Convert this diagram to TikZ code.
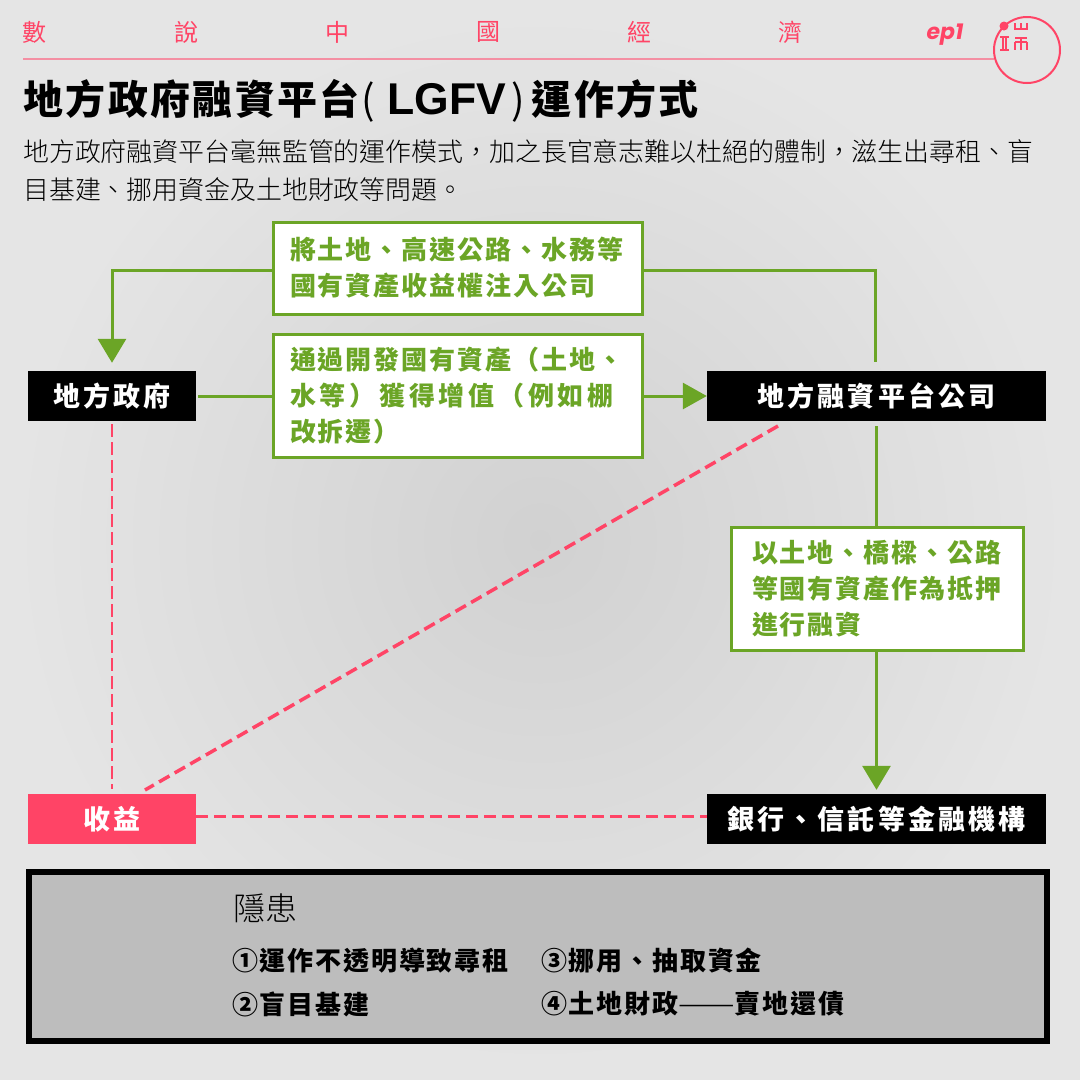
\documentclass[tikz,border=0pt]{standalone}
\usepackage{fontspec}
\setmainfont{Noto Sans CJK TC}
\newfontfamily\cjkblack{Noto Sans CJK TC}[UprightFont={* Black}]
\newfontfamily\cjklight{Noto Sans CJK TC}[UprightFont={* Light}]
\newfontfamily\latinbold{Liberation Sans}[UprightFont={* Bold}]
\newfontfamily\epfont{Poppins}[UprightFont={* Bold Italic}]
\usetikzlibrary{arrows.meta}
\newcommand{\fwcomma}{\char"FF0C\relax}
\newcommand{\fwlp}{\char"FF08\relax}
\newcommand{\fwrp}{\char"FF09\relax}
\definecolor{pinkred}{HTML}{FF4466}
\definecolor{pinkline}{HTML}{F48FA3}
\definecolor{leaf}{HTML}{6BA526}
\tikzset{
	greenbox/.style={draw=leaf, line width=3pt, fill=white, inner ysep=0pt, align=left, text=leaf, font=\cjkblack\fontsize{26}{36}\selectfont\addfontfeature{LetterSpace=7.5}},
	blackbox/.style={fill=black, text=white, minimum height=50pt, inner sep=0pt, font=\cjkblack\fontsize{27}{30}\selectfont\addfontfeature{LetterSpace=11.5}},
	greenline/.style={draw=leaf, line width=3pt},
	pinkdash/.style={draw=pinkred, line width=3pt, dash pattern=on 12pt off 6pt},
	headchar/.style={text=pinkred, font=\fontsize{24}{28}\selectfont},
	issue/.style={anchor=west, inner sep=0pt, font=\cjkblack\fontsize{26}{30}\selectfont\addfontfeature{LetterSpace=7}},
	logostroke/.style={draw=pinkred, line width=1.8pt}
}

\begin{document}
\begin{tikzpicture}[x=1pt, y=-1pt]
	\useasboundingbox (0,0) rectangle (1080,1080);
	\shade[inner color=black!18, outer color=black!10] (0,0) rectangle (1080,1080);

	% header
	\node[headchar] (h1) at (35,32) {數};
	\node[headchar] (h2) at (186,32) {說};
	\node[headchar] (h3) at (337,32) {中};
	\node[headchar] (h4) at (488,32) {國};
	\node[headchar] (h5) at (639,32) {經};
	\node[headchar] (h6) at (790,32) {濟};
	\node[text=pinkred, font=\epfont\fontsize{22}{24}\selectfont] (ep) at (945,35) {ep1};
	\draw[draw=pinkline, line width=2pt] (23,59) -- (994,59);
	\draw[draw=pinkred, line width=2pt] (1027,50) circle (33);
	\fill[pinkred] (1004,26) circle (4.5);
	\draw[logostroke] (1000,37) -- (1009,37) (1000,50) -- (1009,50) (1003,37) -- (1003,50) (1006,37) -- (1006,50);
	\draw[logostroke] (1015,23) -- (1015,29) -- (1027,29) -- (1027,23) (1021,23) -- (1021,29);
	\draw[logostroke] (1015,38) -- (1027,38) (1015,42) -- (1015,50) (1021,38) -- (1021,50) (1027,42) -- (1027,50) (1015,42) -- (1027,42);

	% title
	\node[anchor=west, inner sep=0pt, font=\cjkblack\fontsize{40}{42}\selectfont\addfontfeature{LetterSpace=6}] (title) at (23,101) {地方政府融資平台\kern2pt{\normalfont\fontsize{40}{42}\selectfont(}\kern12pt{\latinbold\fontsize{44.5}{42}\selectfont LGFV}\kern5pt{\normalfont\fontsize{40}{42}\selectfont)}\kern7pt 運作方式};
	\node[anchor=west, inner sep=0pt, font=\cjklight\fontsize{25.9}{38}\selectfont] (sub1) at (23,152) {地方政府融資平台毫無監管的運作模式\fwcomma 加之長官意志難以杜絕的體制\fwcomma 滋生出尋租、盲};
	\node[anchor=west, inner sep=0pt, font=\cjklight\fontsize{25.9}{38}\selectfont] (sub2) at (23,190) {目基建、挪用資金及土地財政等問題。};

	% boxes
	\node[blackbox, minimum width=168pt] (gov) at (112,396) {地方政府};
	\node[blackbox, minimum width=339pt] (platform) at (876.5,396) {地方融資平台公司};
	\node[blackbox, minimum width=168pt, fill=pinkred] (income) at (112,819) {收益};
	\node[blackbox, minimum width=339pt] (bank) at (876.5,819) {銀行、信託等金融機構};
	\node[greenbox, inner xsep=17pt, text width=335pt, minimum height=92pt] (inject) at (457.5,268) {將土地、高速公路、水務等\\國有資產收益權注入公司};
	\node[greenbox, inner xsep=17pt, text width=335pt, minimum height=123pt] (develop) at (457.5,395.5) {通過開發國有資產\fwlp 土地、\\{\addfontfeature{LetterSpace=14.5}水等\fwrp 獲得增值\fwlp 例如棚}\\改拆遷\fwrp};
	\node[greenbox, inner xsep=21pt, text width=250pt, minimum height=123pt] (mortgage) at (877,588.5) {以土地、橋樑、公路\\等國有資產作為抵押\\進行融資};

	% connectors
	\draw[greenline, -{Triangle[length=24pt, width=28pt]}, shorten >=8pt] ([yshift=-2pt]inject.west) -| (gov.north);
	\draw[greenline, shorten >=9pt] ([yshift=-2pt]inject.east) -| ([xshift=-1.5pt]platform.north);
	\draw[greenline, shorten <=2pt] (gov.east) -- (gov.east -| develop.west);
	\draw[greenline, -{Triangle[length=24pt, width=26pt]}] (platform.west -| develop.east) -- (platform.west);
	\draw[greenline, shorten <=5pt] (platform.south) -- (platform.south |- mortgage.north);
	\draw[greenline, -{Triangle[length=24pt, width=28pt]}, shorten >=4pt] (platform.south |- mortgage.south) -- (bank.north);
	\draw[pinkdash, line width=2pt, dash pattern=on 13pt off 5pt, shorten <=3pt, shorten >=5pt] (gov.south) -- (income.north);
	\coordinate (platformfoot) at (778,426);
	\coordinate (incomehead) at (145,790);
	\draw[pinkdash, line width=3.5pt] (platformfoot) -- (incomehead);
	\draw[pinkdash] (income.east |- 0,816) -- (bank.west |- 0,816);

	% hidden risks
	\node[draw=black, line width=6pt, fill=black!26, minimum width=1018pt, minimum height=169pt, inner sep=0pt] (risks) at (538,956) {};
	\node[anchor=west, inner sep=0pt, font=\cjklight\fontsize{32}{36}\selectfont] (risktitle) at (233,908) {隱患};
	\node[issue] (r1) at (232,961) {①運作不透明導致尋租};
	\node[issue] (r2) at (232,1004) {②盲目基建};
	\node[issue] (r3) at (541,961) {③挪用、抽取資金};
	\node[issue] (r4) at (541,1004) {④土地財政{\cjklight\fontsize{34}{30}\selectfont\raisebox{-2pt}{——}}賣地還債};
\end{tikzpicture}
\end{document}
